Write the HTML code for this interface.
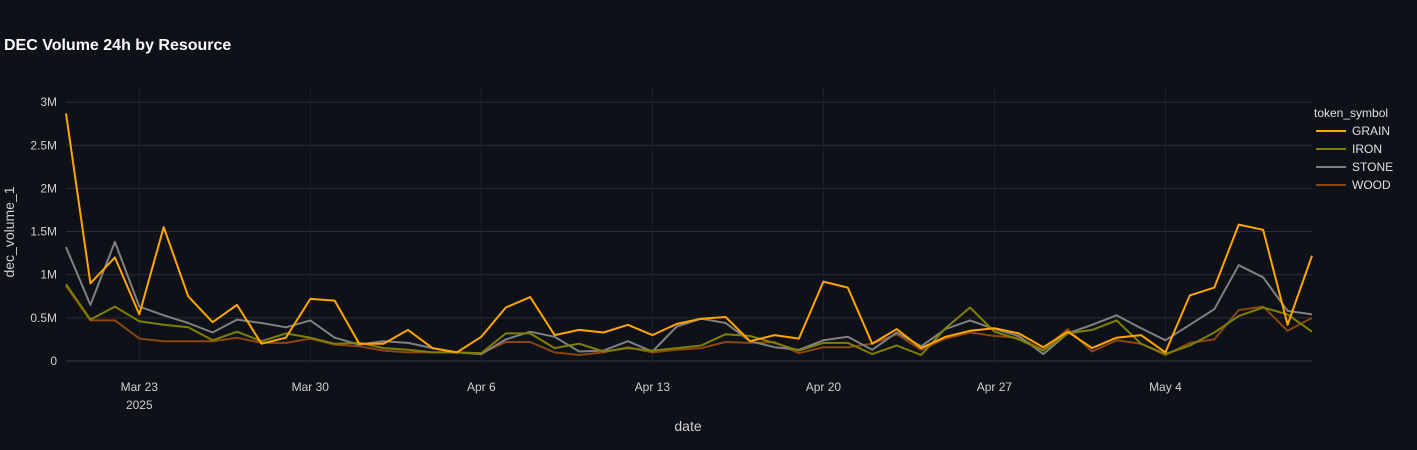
<!DOCTYPE html>
<html><head><meta charset="utf-8"><style>
html,body{margin:0;padding:0;background:#0e1117;}
svg{display:block;font-family:"Liberation Sans",sans-serif;}
</style></head><body>
<svg id="chart" width="1417" height="450" viewBox="0 0 1417 450">
<rect width="1417" height="450" fill="#0e1117"/>
<text x="4" y="50" fill="#fafafa" font-size="16" font-weight="bold">DEC Volume 24h by Resource</text>
<g id="grid"></g>
<g id="yticks"></g>
<g id="xticks"></g>
<g id="series"></g>
<text x="688" y="431" fill="#d0d0d0" font-size="14" text-anchor="middle">date</text>
<text transform="translate(14,232) rotate(-90)" fill="#d0d0d0" font-size="14" text-anchor="middle">dec_volume_1</text>
<g id="legend">
<text x="1314" y="117" fill="#e0e0e0" font-size="12">token_symbol</text>
</g>
</svg>
<script>
const seriesNames = ["GRAIN","IRON","STONE","WOOD"];
const seriesColors = ["#ffa500","#808000","#808080","#8b4513"];
const startDate = "2025-03-20";
const grain = [2.87,0.90,1.20,0.54,1.55,0.75,0.45,0.65,0.20,0.27,0.72,0.70,0.20,0.20,0.36,0.15,0.10,0.28,0.62,0.74,0.30,0.36,0.33,0.42,0.30,0.43,0.49,0.51,0.23,0.30,0.26,0.92,0.85,0.20,0.37,0.15,0.28,0.35,0.38,0.32,0.16,0.34,0.15,0.27,0.30,0.10,0.76,0.85,1.58,1.52,0.42,1.22];
const iron = [0.89,0.48,0.63,0.46,0.42,0.39,0.24,0.34,0.23,0.32,0.27,0.20,0.21,0.15,0.13,0.10,0.10,0.09,0.32,0.32,0.15,0.20,0.11,0.15,0.12,0.15,0.18,0.31,0.29,0.21,0.12,0.21,0.21,0.08,0.18,0.07,0.38,0.62,0.34,0.25,0.12,0.32,0.36,0.47,0.20,0.08,0.18,0.33,0.52,0.62,0.54,0.34];
const stone = [1.32,0.65,1.38,0.63,0.53,0.44,0.33,0.48,0.44,0.39,0.47,0.27,0.19,0.23,0.21,0.15,0.10,0.08,0.25,0.34,0.28,0.11,0.12,0.23,0.11,0.40,0.49,0.44,0.23,0.16,0.13,0.24,0.28,0.13,0.33,0.17,0.37,0.47,0.37,0.29,0.08,0.32,0.42,0.53,0.38,0.24,0.42,0.60,1.11,0.97,0.58,0.54];
const wood = [0.87,0.47,0.47,0.26,0.23,0.23,0.23,0.27,0.21,0.21,0.26,0.19,0.17,0.12,0.10,0.10,0.10,0.09,0.22,0.22,0.10,0.07,0.10,0.16,0.10,0.13,0.15,0.22,0.21,0.22,0.09,0.16,0.16,0.20,0.31,0.13,0.26,0.33,0.29,0.27,0.13,0.37,0.11,0.24,0.20,0.07,0.21,0.25,0.59,0.63,0.35,0.50];
const yTicks = [0,0.5,1,1.5,2,2.5,3];
const yTickLabels = ["0","0.5M","1M","1.5M","2M","2.5M","3M"];
const xTickDays = [3,10,17,24,31,38,45];
const xTickLabels = ["Mar 23","Mar 30","Apr 6","Apr 13","Apr 20","Apr 27","May 4"];

const NS="http://www.w3.org/2000/svg";
const X0=66,X1=1312,Y0=361,YPerM=86.3;
const nPts=grain.length;
function xs(i){return X0+(X1-X0)*i/(nPts-1);}
function ys(v){return Y0-v*YPerM;}
function mk(tag,attrs,parent){const e=document.createElementNS(NS,tag);for(const k in attrs)e.setAttribute(k,attrs[k]);parent.appendChild(e);return e;}
const grid=document.getElementById('grid'),yt=document.getElementById('yticks'),xt=document.getElementById('xticks');
yTicks.forEach((v,k)=>{
  const l=mk('line',{x1:X0,x2:X1,y1:ys(v),y2:ys(v),stroke:v===0?'#3a3e46':'#2b2f37','stroke-width':1},grid);
  
  
  const t=mk('text',{x:57,y:ys(v)+4,fill:'#d0d0d0','font-size':12,'text-anchor':'end'},yt);
  t.textContent=yTickLabels[k];
  
  
});
xTickDays.forEach((d,k)=>{
  const l=mk('line',{x1:xs(d),x2:xs(d),y1:ys(3)-15,y2:Y0,stroke:'#1f232b','stroke-width':1},grid);
  
  
  const t=mk('text',{x:xs(d),y:391,fill:'#d0d0d0','font-size':12,'text-anchor':'middle'},xt);
  t.textContent=xTickLabels[k];
  
  
});
const yr=mk('text',{x:xs(3),y:409,fill:'#d0d0d0','font-size':12,'text-anchor':'middle'},xt);
yr.textContent="2025";


const data=[grain,iron,stone,wood];
const sg=document.getElementById('series'),lg=document.getElementById('legend');
[3,2,1,0].forEach(s=>{
  const pts=data[s].map((v,i)=>xs(i).toFixed(1)+','+ys(v).toFixed(1)).join(' ');
  const p=mk('polyline',{points:pts,fill:'none',stroke:seriesColors[s],'stroke-width':2,'stroke-linejoin':'round'},sg);
  
  
});
seriesNames.forEach((n,s)=>{
  const y=131+s*18;
  const g=mk('g',{},lg);
  
  
  mk('line',{x1:1316,x2:1346,y1:y,y2:y,stroke:seriesColors[s],'stroke-width':2},g);
  const t=mk('text',{x:1352,y:y+4,fill:'#e0e0e0','font-size':12},g);
  t.textContent=n;
});
</script>
</body></html>
